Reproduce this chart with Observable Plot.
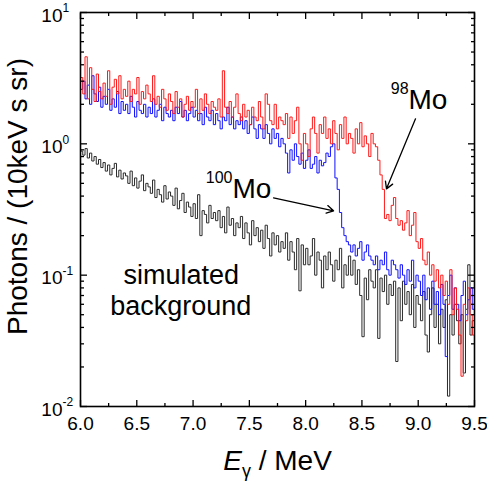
<!DOCTYPE html>
<html><head><meta charset="utf-8">
<script src="https://cdn.jsdelivr.net/npm/d3@7"></script>
<script src="https://cdn.jsdelivr.net/npm/@observablehq/plot@0.6"></script>
<style>body{margin:0;background:#fff;} svg{display:block}</style>
</head><body><div id="chart"></div>
<script>
// 20 keV bins from 6.00 MeV
const binStart = 6.0, binWidth = 0.02, binEnd = 9.5;

const mo98 = [
3.2, 2.4, 4.6, 2.2, 3.8, 2.6, 2.1, 3.4, 2.5, 2.2,
2.9, 2.3, 3.6, 2.0, 2.7, 3.1, 2.4, 3.3, 2.2, 2.6,
2.3, 3.0, 2.1, 2.6, 2.4, 3.2, 2.0, 2.5, 2.2, 2.8,
2.4, 2.1, 3.3, 2.0, 2.3, 1.9, 2.6, 2.2, 1.8, 2.4,
2.1, 1.7, 2.5, 1.9, 2.2, 1.6, 2.0, 2.3, 1.8, 2.1,
1.9, 2.6, 1.7, 2.2, 1.8, 2.4, 2.0, 1.7, 2.1, 1.9,
1.8, 2.2, 1.6, 3.6, 1.9, 1.7, 2.1, 1.6, 1.9, 2.4,
1.7, 1.5, 2.0, 1.6, 1.8, 1.4, 1.9, 1.6, 1.5, 2.1,
1.6, 1.3, 2.4, 2.0, 1.5, 1.4, 2.0, 1.3, 1.6, 1.5,
1.4, 1.7, 1.1, 1.6, 1.2, 1.5, 1.9, 1.0, 0.75, 1.2,
1.0, 0.8, 1.3, 1.6, 1.2, 0.85, 1.4, 1.2, 1.6, 1.1,
1.3, 1.0, 1.5, 1.2, 0.9, 1.4, 1.1, 1.6, 1.0, 1.2,
1.1, 0.85, 1.3, 1.0, 1.45, 0.95, 1.15, 1.0, 0.8, 1.2,
1.0, 0.95, 0.75, 0.58, 0.45, 0.27, 0.29, 0.26, 0.34, 0.39,
0.27, 0.24, 0.26, 0.22, 0.25, 0.31, 0.2, 0.24, 0.3, 0.18,
0.16, 0.19, 0.13, 0.12, 0.15, 0.1, 0.12, 0.09, 0.11, 0.08,
0.1, 0.07, 0.09, 0.06, 0.11, 0.05, 0.08, 0.055, 0.035, 0.017,
0.06, 0.045, 0.08, 0.05, 0.035
];

const mo100 = [
2.6, 3.0, 2.2, 2.8, 2.0, 3.3, 2.4, 2.1, 2.7, 1.9,
2.3, 2.0, 2.6, 1.8, 2.2, 1.9, 2.5, 1.7, 2.1, 1.8,
2.0, 1.7, 2.3, 1.9, 1.6, 2.1, 1.8, 1.7, 2.0, 1.6,
1.9, 1.7, 2.2, 1.6, 1.8, 2.0, 1.5, 1.9, 1.7, 1.6,
1.8, 1.5, 1.9, 1.7, 2.1, 1.6, 1.8, 1.5, 1.7, 1.9,
1.6, 1.8, 1.5, 1.7, 1.4, 1.9, 1.6, 1.5, 1.8, 1.4,
1.7, 1.5, 1.3, 1.6, 1.5, 1.9, 1.4, 1.6, 1.3, 1.5,
1.4, 1.6, 1.3, 1.5, 1.2, 1.4, 1.6, 1.3, 1.1, 1.4,
1.3, 1.1, 1.4, 1.2, 1.0, 1.3, 1.1, 1.2, 0.95, 1.1,
1.0, 0.85, 0.6, 0.9, 0.75, 1.0, 0.8, 0.7, 0.85, 0.65,
0.75, 0.9, 0.65, 0.7, 0.8, 0.6, 0.75, 0.68, 0.72, 0.85,
0.8, 0.95, 1.0, 0.55, 0.45, 0.3, 0.23, 0.2, 0.18, 0.17,
0.15, 0.17, 0.14, 0.16, 0.18, 0.13, 0.15, 0.17, 0.14, 0.13,
0.12, 0.14, 0.11, 0.13, 0.12, 0.15, 0.11, 0.1, 0.13, 0.12,
0.11, 0.095, 0.12, 0.1, 0.085, 0.11, 0.09, 0.13, 0.08, 0.1,
0.09, 0.07, 0.1, 0.065, 0.08, 0.055, 0.09, 0.06, 0.075, 0.05,
0.085, 0.06, 0.024, 0.07, 0.1, 0.055, 0.08, 0.06, 0.045, 0.07,
0.09, 0.05, 0.065, 0.08, 0.055
];

const background = [
0.88, 0.82, 0.92, 0.78, 0.85, 0.74, 0.8, 0.7, 0.76, 0.66,
0.72, 0.62, 0.69, 0.58, 0.65, 0.71, 0.56, 0.63, 0.54, 0.6,
0.57, 0.5, 0.62, 0.48, 0.55, 0.46, 0.52, 0.58, 0.44, 0.5,
0.47, 0.42, 0.53, 0.39, 0.45, 0.41, 0.36, 0.48, 0.38, 0.43,
0.4, 0.34, 0.46, 0.32, 0.37, 0.42, 0.3, 0.36, 0.33, 0.28,
0.35, 0.27, 0.41, 0.2, 0.31, 0.29, 0.25, 0.34, 0.27, 0.3,
0.26, 0.31, 0.23, 0.28, 0.21, 0.33, 0.24, 0.27, 0.2, 0.25,
0.23, 0.28, 0.19, 0.25, 0.21, 0.17, 0.26, 0.2, 0.23, 0.18,
0.22, 0.16, 0.24, 0.19, 0.14, 0.21, 0.17, 0.2, 0.15, 0.18,
0.16, 0.21, 0.13, 0.18, 0.15, 0.11, 0.19, 0.076, 0.17, 0.12,
0.16, 0.12, 0.14, 0.19, 0.1, 0.15, 0.13, 0.08, 0.14, 0.11,
0.15, 0.12, 0.09, 0.13, 0.11, 0.16, 0.08, 0.12, 0.1, 0.14,
0.1, 0.13, 0.085, 0.11, 0.07, 0.034, 0.095, 0.065, 0.11, 0.09,
0.08, 0.11, 0.033, 0.095, 0.075, 0.1, 0.06, 0.085, 0.07, 0.09,
0.022, 0.08, 0.045, 0.09, 0.06, 0.075, 0.05, 0.085, 0.04, 0.07,
0.06, 0.045, 0.075, 0.035, 0.026, 0.05, 0.08, 0.04, 0.06, 0.03,
0.055, 0.04, 0.065, 0.012, 0.05, 0.035, 0.06, 0.045, 0.03, 0.05,
0.018, 0.055, 0.12, 0.035, 0.045
];

const seriesNames = ["simulated background", "100Mo", "98Mo"];
const seriesColors = ["#2b2b2b", "#1010ff", "#ff1a1a"];

const xMajor = [6.0, 6.5, 7.0, 7.5, 8.0, 8.5, 9.0, 9.5];
const xMinor = [6.25, 6.75, 7.25, 7.75, 8.25, 8.75, 9.25];
const yMajor = [0.01, 0.1, 1, 10];
const yExponents = ["-2", "-1", "0", "1"];
const yMinor = [0.02,0.03,0.04,0.05,0.06,0.07,0.08,0.09,
                0.2,0.3,0.4,0.5,0.6,0.7,0.8,0.9,
                2,3,4,5,6,7,8,9];

const xTitle = "E γ / MeV";
const yTitle = "Photons / (10keV s sr)";

const isotopeLabels = [
  {x: 8.914, y: 1.855, sup: "98", text: "Mo"},
  {x: 7.350, y: 0.390, sup: "100", text: "Mo"}
];
const arrows = [
  {x1: 8.976, y1: 1.55, x2: 8.718, y2: 0.454},
  {x1: 7.715, y1: 0.388, x2: 8.248, y2: 0.309}
];
const bgLabel = [
  {x: 6.895, y: 0.0864, text: "simulated"},
  {x: 6.890, y: 0.0501, text: "background"}
];

function toSteps(values, name) {
  const rows = values.map((v, i) => ({E: binStart + i * binWidth, v, name}));
  rows.push({E: binEnd, v: values[values.length - 1], name});
  return rows;
}
const rows = [
  ...toSteps(background, seriesNames[0]),
  ...toSteps(mo100, seriesNames[1]),
  ...toSteps(mo98, seriesNames[2])
];

const tickOpts = {fill: "none", label: null, stroke: "black", strokeWidth: 1.3};

const plot = Plot.plot({
  width: 487, height: 485,
  marginLeft: 80, marginRight: 13, marginTop: 12, marginBottom: 79,
  style: {fontFamily: "'Liberation Sans', Arial, Helvetica, sans-serif", fontSize: "19px", color: "black", background: "white"},
  x: {domain: [6, 9.5], axis: null},
  y: {type: "log", domain: [0.01, 10], axis: null},
  color: {domain: seriesNames, range: seriesColors},
  marks: [
    Plot.line(rows, {x: "E", y: "v", z: "name", stroke: "name", curve: "step-after", strokeWidth: 1, clip: true}),
    Plot.frame({stroke: "black", strokeWidth: 1.6}),
    Plot.axisX(xMajor, {...tickOpts, anchor: "bottom", tickSize: -6}),
    Plot.axisX(xMinor, {...tickOpts, anchor: "bottom", tickSize: -3}),
    Plot.axisX(xMajor, {...tickOpts, anchor: "top", tickSize: -6}),
    Plot.axisX(xMinor, {...tickOpts, anchor: "top", tickSize: -3}),
    Plot.axisY(yMajor, {...tickOpts, anchor: "left", tickSize: -7}),
    Plot.axisY(yMinor, {...tickOpts, anchor: "left", tickSize: -4}),
    Plot.axisY(yMajor, {...tickOpts, anchor: "right", tickSize: -7}),
    Plot.axisY(yMinor, {...tickOpts, anchor: "right", tickSize: -4}),
    // tick labels
    Plot.text(xMajor, {x: d => d, frameAnchor: "bottom", dy: 17, text: d => d.toFixed(1), fontSize: 19, lineAnchor: "middle", textAnchor: "middle", fill: "black"}),
    Plot.text(yMajor, {y: d => d, frameAnchor: "left", dx: -18, dy: 3, text: () => "10", textAnchor: "end", fontSize: 19, lineAnchor: "middle", fill: "black"}),
    Plot.text(yMajor, {y: d => d, frameAnchor: "left", dx: -18, dy: -4, text: (d, i) => yExponents[i], textAnchor: "start", fontSize: 12, lineAnchor: "middle", fill: "black"}),
    // axis titles
    Plot.text([xTitle], {frameAnchor: "bottom", dy: 63, text: d => d, fontSize: 28, lineAnchor: "bottom", textAnchor: "middle", fill: "black"}),
    Plot.text([yTitle], {frameAnchor: "left", dx: -62, dy: -13, rotate: -90, text: d => d, fontSize: 28, lineAnchor: "middle", textAnchor: "middle", fill: "black"}),
    // annotations
    Plot.arrow(arrows, {x1: "x1", y1: "y1", x2: "x2", y2: "y2", stroke: "black", strokeWidth: 1.3, headLength: 9}),
    Plot.text(isotopeLabels, {x: "x", y: "y", text: "text", textAnchor: "start", lineAnchor: "bottom", fontSize: 28, fill: "black"}),
    Plot.text(isotopeLabels, {x: "x", y: "y", text: "sup", textAnchor: "end", lineAnchor: "bottom", dy: -15, fontSize: 16, fill: "black"}),
    Plot.text(bgLabel, {x: "x", y: "y", text: "text", textAnchor: "middle", lineAnchor: "bottom", fontSize: 27, fill: "black"})
  ]
});

document.getElementById("chart").appendChild(plot);

// rich text for x title: italic E with subscript gamma
d3.select(plot).selectAll("text").each(function() {
  if (this.textContent === xTitle) {
    const xt = d3.select(this);
    xt.text(null);
    xt.append("tspan").attr("font-style", "italic").text("E");
    xt.append("tspan").attr("font-size", 18).attr("dy", 7).text("γ");
    xt.append("tspan").attr("dy", -7).text(" / MeV");
  }
});
</script>
</body></html>
